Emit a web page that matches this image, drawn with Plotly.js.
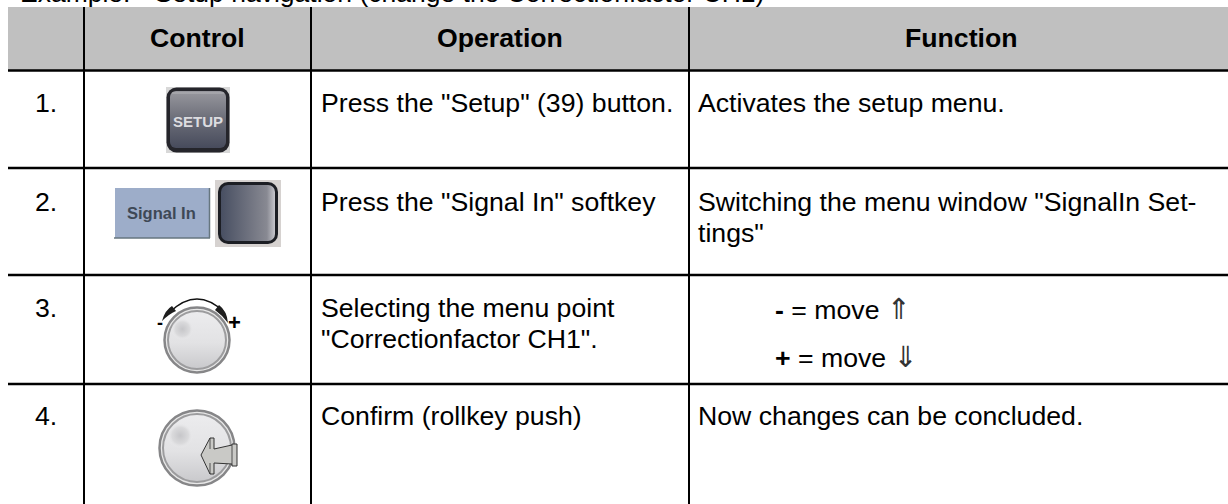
<!DOCTYPE html>
<html><head><meta charset="utf-8">
<script src="https://cdn.plot.ly/plotly-3.0.1.min.js"></script>
<style>html,body{margin:0;padding:0;background:#fff}#c{width:1228px;height:504px}</style>
</head><body><div id="c"></div>
<script>
const caption = 'Example:  "Setup navigation (change the Correctionfactor CH1)';
const headers = ['Control', 'Operation', 'Function'];
const steps = ['1.', '2.', '3.', '4.'];
const operations = [['Press the "Setup" (39) button.'], ['Press the "Signal In" softkey'], ['Selecting the menu point','"Correctionfactor CH1".'], ['Confirm (rollkey push)']];
const functions = [['Activates the setup menu.'], ['Switching the menu window "SignalIn Set-','tings"'], [], ['Now changes can be concluded.']];
const arrowFont = 'font-family:DejaVu Sans ExtraLight,DejaVu Sans;font-size:29px;color:#333';
const moveLabels = ['<b>-</b> = move <span style="'+arrowFont+'">\u21D1</span>', '<b>+</b> = move <span style="'+arrowFont+'">\u21D3</span>'];
const buttonLabels = ['SETUP', 'Signal In'];

const font = 'Liberation Sans, Arial, sans-serif';
const size = 26.67;
const rowY = [103, 202, 308, 416];
const lineGap = 30.5;
const dataUri = s => 'data:image/svg+xml;base64,' + btoa(s);
const img = (svg, x, y, w, h) => ({source: dataUri(svg), xref:'x', yref:'y', x, y, sizex:w, sizey:h, xanchor:'left', yanchor:'top', sizing:'stretch', layer:'above'});

const setupSvg = `<svg xmlns="http://www.w3.org/2000/svg" width="64" height="66" viewBox="0 0 64 66"><defs><linearGradient id="g" x1="0" y1="0" x2="0" y2="1"><stop offset="0" stop-color="#98989e"/><stop offset=".5" stop-color="#6b6d78"/><stop offset="1" stop-color="#474b5c"/></linearGradient></defs><rect width="64" height="66" fill="#d8d8d8"/><rect x="0.5" y="0.5" width="63" height="65" rx="10" fill="#25252b"/><rect x="4" y="4" width="56" height="57" rx="6" fill="url(#g)"/><path d="M6 6 H58" stroke="#b4b4b8" stroke-width="1.2"/></svg>`;
const softSvg = `<svg xmlns="http://www.w3.org/2000/svg" width="66" height="67" viewBox="0 0 66 67"><defs><linearGradient id="g" x1="0" y1="0" x2="1" y2="0"><stop offset="0" stop-color="#484f62"/><stop offset=".85" stop-color="#888992"/><stop offset="1" stop-color="#c6c6cc"/></linearGradient></defs><rect width="66" height="67" fill="#d6d2d0"/><rect x="3" y="2" width="60" height="62" rx="10" fill="#1c1e24"/><rect x="6" y="5" width="54" height="56" rx="7" fill="url(#g)"/></svg>`;
const knob = (r) => `<defs><linearGradient id="k" x1="0" y1="0" x2="0" y2="1"><stop offset="0" stop-color="#ececee"/><stop offset=".55" stop-color="#e2e2e4"/><stop offset="1" stop-color="#c9c9cc"/></linearGradient><radialGradient id="h"><stop offset="0" stop-color="#c6c6c9"/><stop offset=".65" stop-color="#dadadc"/><stop offset="1" stop-color="#ececee" stop-opacity="0"/></radialGradient></defs><circle cx="${r}" cy="${r}" r="${r-1.5}" fill="#e8e8e8" stroke="#868688" stroke-width="2.5"/><circle cx="${r}" cy="${r}" r="${r-5}" fill="url(#k)" stroke="#9c9c9e" stroke-width="2"/><circle cx="${r*0.57}" cy="${r*0.68}" r="${r*0.33}" fill="url(#h)"/>`;
const turnSvg = `<svg xmlns="http://www.w3.org/2000/svg" width="68" height="68" viewBox="0 0 68 68">${knob(34)}</svg>`;
const pushSvg = `<svg xmlns="http://www.w3.org/2000/svg" width="80" height="80" viewBox="0 0 80 80">${knob(39)}<path d="M43 46 L52 29 L56 29 L56 40 L74 36 L74 35 L79 35 L79 57 L74 57 L74 55 L56 54 L56 65 L52 65 Z" fill="#c9c9c6" stroke="#333" stroke-width="1"/><path d="M52 29 V40 M52 54 V65 M74 36 V55" stroke="#333" stroke-width="0.8" fill="none"/></svg>`;
const arcSvg = `<svg xmlns="http://www.w3.org/2000/svg" width="74" height="30" viewBox="0 0 74 30"><path d="M9 15 Q36 -11 63 15" fill="none" stroke="#111" stroke-width="1.2"/><path d="M1 24 Q4 13 11 9 L15 14 Q8 17 1 24 Z" fill="#1e1e1e"/><path d="M67 26 Q66 14 58 8 L54 13 Q61 18 67 26 Z" fill="#1e1e1e"/></svg>`;

const line = (x0,y0,x1,y1,w) => ({type:'line',xref:'x',yref:'y',x0,y0,x1,y1,layer:'above',line:{color:'#000',width:w}});
const shapes = [
  {type:'rect',xref:'x',yref:'y',x0:8,y0:7,x1:1228,y1:71,layer:'above',fillcolor:'#c0c0c0',line:{width:0}},
  {type:'rect',xref:'x',yref:'y',x0:115,y0:188,x1:209,y1:238,layer:'above',fillcolor:'#9dadc9',line:{width:0}},
  {type:'line',xref:'x',yref:'y',x0:114,y0:238,x1:210,y1:238,layer:'above',line:{color:'#66767f',width:1.5}},
  {type:'line',xref:'x',yref:'y',x0:209.5,y0:188,x1:209.5,y1:238,layer:'above',line:{color:'#66767f',width:1.5}},
  line(8,70.5,1228,70.5,2.6), line(8,168,1228,168,2.6), line(8,275,1228,275,2.6), line(8,384,1228,384,2.6),
  line(84,7,84,504,2), line(311,7,311,504,2), line(689,7,689,504,2)
];

const note = (text,x,y,sz,anchor,color) => ({text,x,y,xref:'x',yref:'y',xanchor:anchor,yanchor:'middle',showarrow:false,align:'left',borderpad:0,borderwidth:0,font:{family:font,size:sz,color:color||'#000'}});
const annotations = [];
[197,499.5,961.5].forEach((x,i)=>annotations.push(note('<b>'+headers[i]+'</b>',x,38,size,'center')));
steps.forEach((t,i)=>annotations.push(note(t,35,rowY[i],size,'left')));
operations.forEach((ls,i)=>ls.forEach((t,j)=>annotations.push(note(t,321,rowY[i]+j*lineGap,size,'left'))));
functions.forEach((ls,i)=>ls.forEach((t,j)=>annotations.push(note(t,698,rowY[i]+j*lineGap,size,'left'))));
annotations.push(note(moveLabels[0],775,308.5,size,'left'));
annotations.push(note(moveLabels[1],775,356.5,size,'left'));
annotations.push(note('<b>'+buttonLabels[0]+'</b>',198,121,15,'center','#dcdce0'));
annotations.push(note('<b>'+buttonLabels[1]+'</b>',161,213,16.5,'center','#3e4856'));
annotations.push(note('<b>-</b>',160,323,18,'center'));
annotations.push(note('<b>+</b>',234,322,22,'center'));

const trace = {type:'scatter',mode:'text',x:[20],y:[9],text:[caption],textposition:'top right',cliponaxis:false,hoverinfo:'skip',showlegend:false,textfont:{family:font,size:26.5,color:'#000'}};

Plotly.newPlot('c',[trace],{
  width:1228,height:504,margin:{l:0,r:0,t:0,b:0},paper_bgcolor:'#fff',plot_bgcolor:'#fff',showlegend:false,
  xaxis:{range:[0,1228],visible:false,fixedrange:true},
  yaxis:{range:[504,0],visible:false,fixedrange:true},
  shapes,annotations,
  images:[img(setupSvg,166,87,64,66),img(softSvg,215,180,66,67),img(turnSvg,163,306,68,68),img(arcSvg,161,297,74,30),img(pushSvg,158,409,80,80)]
},{staticPlot:true,displayModeBar:false});
</script></body></html>
